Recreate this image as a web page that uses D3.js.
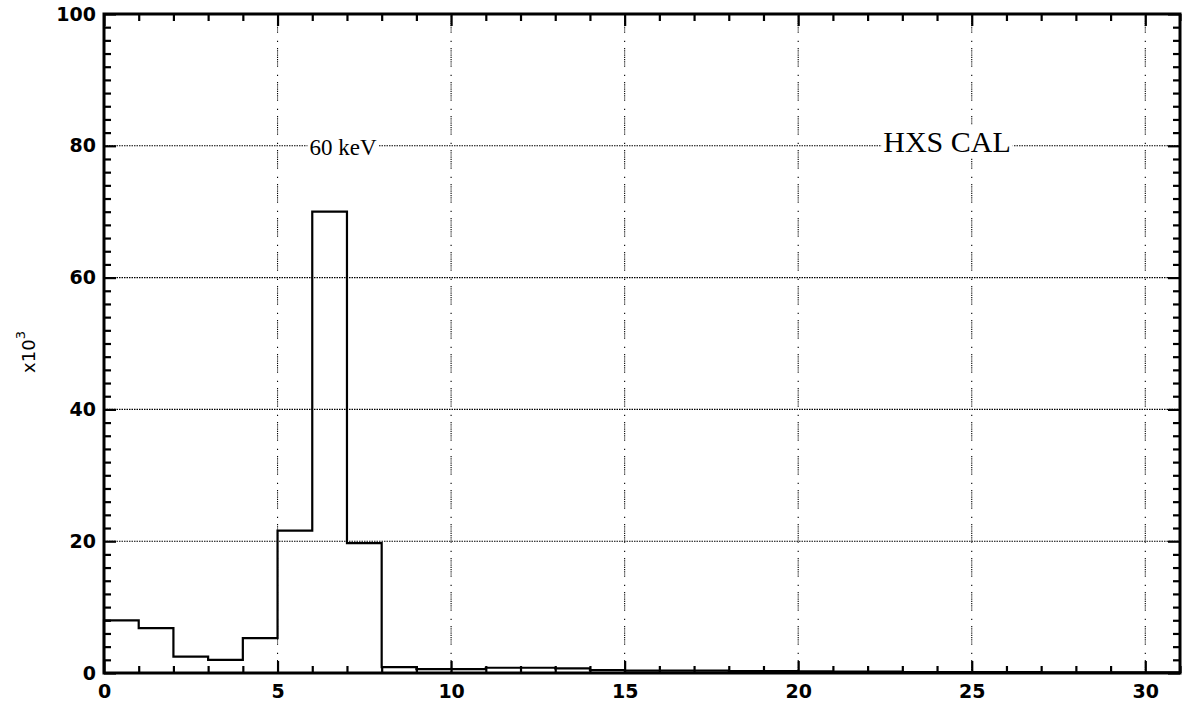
<!DOCTYPE html>
<html>
<head>
<meta charset="utf-8">
<script src="https://cdn.jsdelivr.net/npm/d3@7"></script>
<style>
  html, body { margin: 0; padding: 0; background: #fff; }
  svg { display: block; }
  .tick text { font-family: "DejaVu Sans", sans-serif; font-weight: bold; font-size: 19px; fill: #000; }
  .tick line { stroke: #000; stroke-width: 2.2; }
</style>
</head>
<body>
<svg id="chart" width="1184" height="704"></svg>
<script>
// Channel index (left edge of each bin) and counts in thousands
const channels = d3.range(0, 31);
const counts = [8.0, 6.8, 2.5, 2.0, 5.3, 21.6, 70.0, 19.7, 0.9, 0.6,
                0.6, 0.8, 0.8, 0.7, 0.45, 0.35, 0.35, 0.35, 0.3, 0.3,
                0.25, 0.2, 0.2, 0.15, 0.15, 0.15, 0.15, 0.1, 0.1, 0.1, 0.1];
const xMajorTicks = [0, 5, 10, 15, 20, 25, 30];
const yMajorTicks = [0, 20, 40, 60, 80, 100];
const gridX = [5, 10, 15, 20, 25, 30];
const gridY = [20, 40, 60, 80];
const peakLabel = "60 keV";
const titleLabel = "HXS CAL";

const svg = d3.select("#chart");
const plotLeft = 104, plotRight = 1180, plotTop = 14, plotBottom = 673;

const x = d3.scaleLinear().domain([0, 31]).range([plotLeft, plotRight]);
const y = d3.scaleLinear().domain([0, 100]).range([plotBottom, plotTop]);

// Dotted grid
svg.append("g").selectAll("line").data(gridY).join("line")
  .attr("x1", plotLeft).attr("x2", plotRight)
  .attr("y1", d => y(d)).attr("y2", d => y(d))
  .attr("stroke", "#000").attr("stroke-width", 1.1)
  .attr("stroke-dasharray", "1.5,1");

svg.append("g").selectAll("line").data(gridX).join("line")
  .attr("x1", d => x(d)).attr("x2", d => x(d))
  .attr("y1", plotTop).attr("y2", plotBottom)
  .attr("stroke", "#000").attr("stroke-width", 1.1)
  .attr("stroke-dasharray", "1.2,1,1.2,1,1.2,1,1.2,1,1.2,1,1.2,1,1.2,1,1.2,1,1.2,8,1.2,6");

// Annotation labels with a white backing that interrupts the grid
function boxedLabel(text, cx, baseline, size, padX) {
  const g = svg.append("g");
  const t = g.append("text")
    .attr("x", cx).attr("y", baseline)
    .attr("font-family", "'Liberation Serif', 'Times New Roman', serif")
    .attr("font-size", size)
    .attr("text-anchor", "middle")
    .attr("fill", "#000")
    .text(text);
  const bb = t.node().getBBox();
  g.insert("rect", "text")
    .attr("x", bb.x - padX).attr("y", bb.y)
    .attr("width", bb.width + 2 * padX).attr("height", bb.height)
    .attr("fill", "#fff");
}
boxedLabel(peakLabel, 343, 155, 23, 2);
boxedLabel(titleLabel, 947, 152, 30, 2);

// Histogram drawn as a step line
const pts = channels.map((c, i) => [c, counts[i]]);
pts.unshift([0, 0]);
pts.push([31, counts[counts.length - 1]]);
const stepLine = d3.line()
  .x(d => x(d[0])).y(d => y(d[1]))
  .curve(d3.curveStepAfter);
svg.append("path")
  .datum(pts)
  .attr("d", stepLine)
  .attr("fill", "none")
  .attr("stroke", "#000")
  .attr("stroke-width", 2.2);

// Axes: inward ticks on all four sides
const xMinor = d3.range(0, 32).filter(v => v % 5 !== 0);
const yMinor = d3.range(0, 101, 2).filter(v => v % 20 !== 0);

svg.append("g").attr("transform", `translate(0,${plotBottom})`)
  .call(d3.axisBottom(x).tickValues(xMajorTicks).tickFormat(d3.format("d"))
    .tickSizeInner(-12).tickSizeOuter(0).tickPadding(12));
svg.append("g").attr("transform", `translate(0,${plotBottom})`)
  .call(d3.axisBottom(x).tickValues(xMinor).tickFormat("")
    .tickSizeInner(-7).tickSizeOuter(0));

svg.append("g").attr("transform", `translate(0,${plotTop})`)
  .call(d3.axisTop(x).tickValues(xMajorTicks).tickFormat("")
    .tickSizeInner(-12).tickSizeOuter(0));
svg.append("g").attr("transform", `translate(0,${plotTop})`)
  .call(d3.axisTop(x).tickValues(xMinor).tickFormat("")
    .tickSizeInner(-7).tickSizeOuter(0));

svg.append("g").attr("transform", `translate(${plotLeft},0)`)
  .call(d3.axisLeft(y).tickValues(yMajorTicks).tickFormat(d3.format("d"))
    .tickSizeInner(-12).tickSizeOuter(0).tickPadding(8));
svg.append("g").attr("transform", `translate(${plotLeft},0)`)
  .call(d3.axisLeft(y).tickValues(yMinor).tickFormat("")
    .tickSizeInner(-7).tickSizeOuter(0));

svg.append("g").attr("transform", `translate(${plotRight},0)`)
  .call(d3.axisRight(y).tickValues(yMajorTicks).tickFormat("")
    .tickSizeInner(-12).tickSizeOuter(0));
svg.append("g").attr("transform", `translate(${plotRight},0)`)
  .call(d3.axisRight(y).tickValues(yMinor).tickFormat("")
    .tickSizeInner(-7).tickSizeOuter(0));

svg.selectAll(".domain").remove();

// Frame
svg.append("rect")
  .attr("x", plotLeft).attr("y", plotTop)
  .attr("width", plotRight - plotLeft).attr("height", plotBottom - plotTop)
  .attr("fill", "none").attr("stroke", "#000").attr("stroke-width", 3);

// Y axis unit label
const yl = svg.append("text")
  .attr("transform", "translate(35,352) rotate(-90)")
  .attr("text-anchor", "middle")
  .attr("font-family", "'DejaVu Sans', sans-serif")
  .attr("font-size", 18)
  .attr("fill", "#000");
yl.append("tspan").text("x10");
yl.append("tspan").attr("dy", -10).attr("font-size", 13).text("3");
</script>
</body>
</html>
